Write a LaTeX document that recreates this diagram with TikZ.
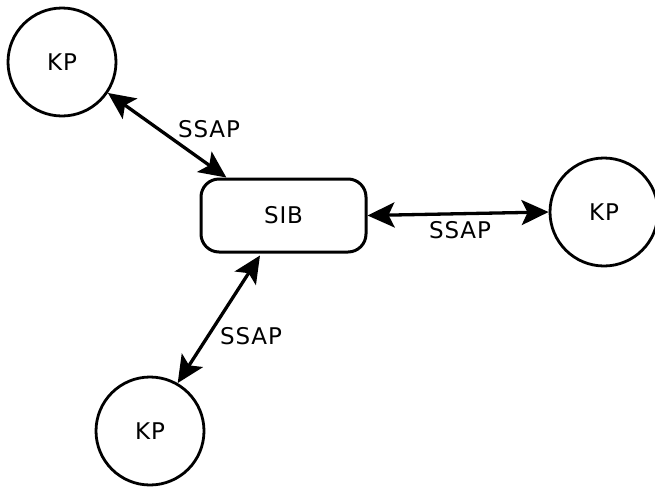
\documentclass[tikz,border=0pt]{standalone}
\usepackage{fontspec}
\setmainfont{DejaVu Sans}[LetterSpace=4]
\usetikzlibrary{arrows.meta,calc}
\begin{document}
\begin{tikzpicture}[x=1pt,y=-1pt,
  kp/.style={draw, circle, line width=2.8pt, minimum size=108pt, inner sep=0pt, font=\fontsize{23}{27}\selectfont},
  sib/.style={draw, rounded corners=18pt, line width=3pt, minimum width=165pt, minimum height=73pt, inner sep=0pt, font=\fontsize{23}{27}\selectfont},
  link/.style={line width=3.3pt, {Stealth[length=27pt,width=25pt,inset=6pt]}-{Stealth[length=27pt,width=25pt,inset=6pt]}},
  lbl/.style={font=\fontsize{23}{27}\selectfont, inner sep=0pt}]
  \useasboundingbox (0,0) rectangle (655,488);
  \node[kp]  (kpa) at (62,62)   {KP};
  \node[kp]  (kpb) at (604,212) {KP};
  \node[kp]  (kpc) at (150,431) {KP};
  \node[sib] (sib) at (283.5,215.5) {SIB};
  % links between the SIB and each KP
  \draw[link] (kpa.-34) -- ($(sib.north west)!0.16!(sib.north east)$);
  \draw[link] (sib.east) -- (kpb.west);
  \draw[link] ($(sib.south west)!0.36!(sib.south east)+(0,2)$) -- (kpc.60);
  \node[lbl] (la) at (209,129) {SSAP};
  \node[lbl] (lb) at (460,230) {SSAP};
  \node[lbl] (lc) at (251,336) {SSAP};
\end{tikzpicture}
\end{document}
